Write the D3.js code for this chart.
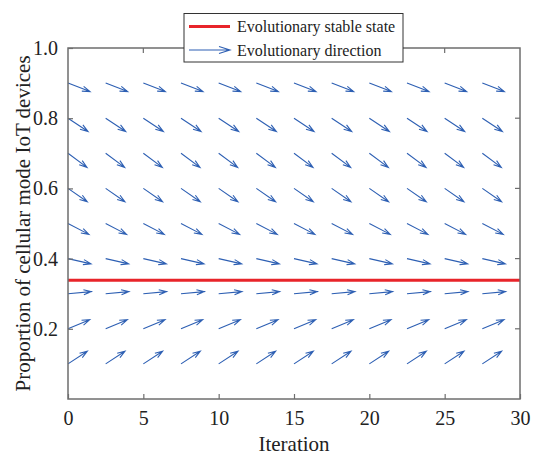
<!DOCTYPE html>
<html>
<head>
<meta charset="utf-8">
<script src="https://cdn.jsdelivr.net/npm/d3@7"></script>
<style>
  body { margin: 0; background: #fff; }
  svg { display: block; font-family: "Liberation Serif", "DejaVu Serif", serif; }
</style>
</head>
<body>
<div id="chart"></div>
<script>
// Quiver grid (starting points)
const gridX = [0, 2.5, 5, 7.5, 10, 12.5, 15, 17.5, 20, 22.5, 25, 27.5];
const gridY = [0.1, 0.2, 0.3, 0.4, 0.5, 0.6, 0.7, 0.8, 0.9];
// Direction components per row (same along each row)
const dirU = [1.28, 1.44, 1.55, 1.53, 1.39, 1.28, 1.26, 1.33, 1.46];
const dirV = [0.036, 0.026, 0.006, -0.015, -0.031, -0.038, -0.040, -0.038, -0.024];
const stableState = 0.338;
const xTicks = [0, 5, 10, 15, 20, 25, 30];
const yTicks = [0.2, 0.4, 0.6, 0.8, 1.0];
const legendLabels = ['Evolutionary stable state', 'Evolutionary direction'];

const width = 534, height = 456;
const plotL = 68, plotR = 520, plotT = 48, plotB = 399;
const arrowColor = '#2d5fb3', redColor = '#e8242a', frameColor = '#6e6e6e';

const svg = d3.select('#chart').append('svg')
  .attr('width', width).attr('height', height);

svg.append('rect').attr('width', width).attr('height', height).attr('fill', '#fff');

const x = d3.scaleLinear().domain([0, 30]).range([plotL, plotR]);
const y = d3.scaleLinear().domain([0, 1]).range([plotB, plotT]);

// arrow path: shaft + open two-barb head, in pixel space
function arrowPath(x1, y1, x2, y2) {
  const dx = x2 - x1, dy = y2 - y1;
  const a = 0.33, b = 0.33;
  const hx1 = x2 - a * (dx + b * dy), hy1 = y2 - a * (dy - b * dx);
  const hx2 = x2 - a * (dx - b * dy), hy2 = y2 - a * (dy + b * dx);
  return `M${x1},${y1}L${x2},${y2}M${hx1},${hy1}L${x2},${y2}L${hx2},${hy2}`;
}

// quiver data
const arrows = [];
gridY.forEach((gy, i) => {
  gridX.forEach(gx => arrows.push({ x: gx, y: gy, u: dirU[i], v: dirV[i] }));
});

svg.append('g').selectAll('path')
  .data(arrows)
  .join('path')
  .attr('d', d => arrowPath(x(d.x), y(d.y), x(d.x + d.u), y(d.y + d.v)))
  .attr('fill', 'none')
  .attr('stroke', arrowColor)
  .attr('stroke-width', 1.1)
  .attr('stroke-linejoin', 'miter');

// stable state line
svg.append('line')
  .attr('x1', x(0)).attr('x2', x(30))
  .attr('y1', y(stableState)).attr('y2', y(stableState))
  .attr('stroke', redColor).attr('stroke-width', 3);

// frame
svg.append('rect')
  .attr('x', plotL).attr('y', plotT)
  .attr('width', plotR - plotL).attr('height', plotB - plotT)
  .attr('fill', 'none').attr('stroke', frameColor).attr('stroke-width', 1.5);

// axes with inward ticks
const xAxis = d3.axisBottom(x).tickValues(xTicks).tickSizeInner(-5).tickSizeOuter(0).tickPadding(12);
const yAxis = d3.axisLeft(y).tickValues(yTicks).tickSizeInner(-5).tickSizeOuter(0).tickPadding(10)
  .tickFormat(d3.format('.1f'));

const gx = svg.append('g').attr('transform', `translate(0,${plotB})`).call(xAxis);
const gy = svg.append('g').attr('transform', `translate(${plotL},0)`).call(yAxis);
[gx, gy].forEach(g => {
  g.select('.domain').remove();
  g.selectAll('.tick line').attr('stroke', frameColor).attr('stroke-width', 1.2);
  g.selectAll('.tick text').attr('fill', '#222').style('font-size', '20px')
    .style('font-family', '"Liberation Serif", serif');
});

// top and right ticks
svg.append('g').selectAll('line').data(xTicks.slice(1, -1)).join('line')
  .attr('x1', d => x(d)).attr('x2', d => x(d))
  .attr('y1', plotT).attr('y2', plotT + 5)
  .attr('stroke', frameColor).attr('stroke-width', 1.2);
svg.append('g').selectAll('line').data(yTicks.slice(0, -1)).join('line')
  .attr('x1', plotR).attr('x2', plotR - 5)
  .attr('y1', d => y(d)).attr('y2', d => y(d))
  .attr('stroke', frameColor).attr('stroke-width', 1.2);

// axis titles
svg.append('text')
  .attr('x', (plotL + plotR) / 2).attr('y', 451)
  .attr('text-anchor', 'middle')
  .attr('fill', '#222').style('font-size', '21px')
  .text('Iteration');

svg.append('text')
  .attr('transform', `translate(30,${(plotT + plotB) / 2}) rotate(-90)`)
  .attr('text-anchor', 'middle')
  .attr('fill', '#222').style('font-size', '21px')
  .text('Proportion of cellular mode IoT devices');

// legend
const legend = svg.append('g');
legend.append('rect')
  .attr('x', 184).attr('y', 13.5).attr('width', 219).attr('height', 48.5)
  .attr('fill', '#fff').attr('stroke', '#333').attr('stroke-width', 1);
legend.append('line')
  .attr('x1', 189).attr('x2', 230).attr('y1', 26.5).attr('y2', 26.5)
  .attr('stroke', redColor).attr('stroke-width', 3);
legend.append('path')
  .attr('d', 'M189,50L230,50M219,46.5L230,50L219,53.5')
  .attr('fill', 'none').attr('stroke', arrowColor).attr('stroke-width', 1.1);
legend.selectAll('text.lab').data(legendLabels).join('text')
  .attr('class', 'lab')
  .attr('x', 237).attr('y', (d, i) => 32 + i * 23.5)
  .attr('fill', '#222').style('font-size', '16px')
  .text(d => d);
</script>
</body>
</html>
